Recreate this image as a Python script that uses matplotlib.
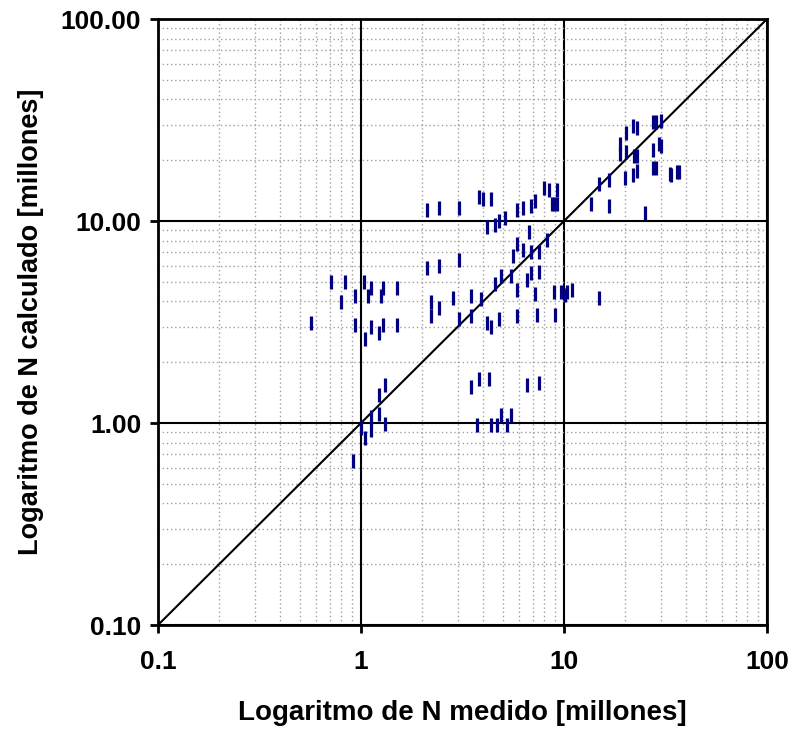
import matplotlib
matplotlib.use("Agg")
import matplotlib.pyplot as plt
from matplotlib.ticker import LogLocator, FixedLocator, NullFormatter

plt.rcParams['font.family'] = ['Liberation Sans', 'DejaVu Sans']

# N medido (x) y N calculado (y), millones
n_medido = [
    20.1, 21.9, 23.0, 27.5, 28.5, 30.1, 18.8, 18.8, 20.1, 22.1, 23.0, 27.4, 29.5, 30.0,
    20.0, 21.9, 23.0, 27.4, 28.5, 33.2, 33.8, 36.0, 36.8, 14.9, 16.7, 13.6, 16.7, 25.1,
    7.93, 8.45, 9.21, 8.68, 8.96, 9.21, 7.17, 6.85, 6.28, 5.87, 3.80, 3.98, 4.38, 2.11,
    2.42, 3.04, 4.19, 4.59, 4.80, 5.12, 6.70, 5.87, 6.28, 6.85, 8.26, 7.50, 5.61, 3.04,
    2.11, 2.42, 4.91, 5.50, 6.85, 7.50, 6.54, 4.59, 5.87, 7.17, 8.88, 9.69, 10.1, 10.4,
    10.9, 14.9, 2.20, 2.20, 2.42, 2.84, 3.49, 3.91, 3.04, 3.49, 4.19, 4.38, 4.80, 5.87,
    7.37, 9.04,
    0.714, 0.833, 1.03, 1.12, 1.28, 1.51, 0.796, 0.934, 1.08, 1.26, 0.568, 0.934, 1.12,
    1.28, 1.51, 1.05, 1.23,
    1.31, 1.23, 1.12, 1.12, 1.23, 1.31, 1.00, 1.05, 0.913,
    3.49, 3.82, 4.28, 6.54, 7.50, 3.73, 4.38, 4.69, 4.91, 5.24, 5.48,
]
n_calculado = [
    27.2, 29.6, 28.9, 31.0, 31.0, 31.4, 24.1, 21.4, 21.9, 21.0, 21.0, 22.4, 24.0, 23.5,
    16.4, 16.9, 17.6, 18.4, 18.4, 17.0, 16.8, 17.4, 17.4, 15.3, 15.9, 12.2, 11.9, 10.9,
    14.6, 14.3, 14.3, 12.2, 12.2, 12.1, 12.5, 11.8, 11.6, 11.4, 13.1, 12.8, 12.8, 11.4,
    11.6, 11.6, 9.38, 9.60, 10.0, 10.4, 8.83, 7.69, 7.18, 7.02, 8.06, 7.02, 6.70, 6.40,
    5.84, 5.98, 5.33, 5.33, 5.50, 5.58, 5.09, 4.86, 4.54, 4.33, 4.43, 4.43, 4.29, 4.43,
    4.54, 4.14, 3.95, 3.38, 3.69, 4.14, 4.24, 4.10, 3.29, 3.37, 3.14, 3.00, 3.29, 3.37,
    3.44, 3.44,
    4.97, 4.97, 4.97, 4.64, 4.64, 4.64, 3.95, 4.24, 4.24, 4.24, 3.14, 3.07, 3.00,
    3.07, 3.04, 2.61, 2.80,
    1.54, 1.37, 1.07, 0.92, 1.11, 0.99, 0.95, 0.84, 0.65,
    1.51, 1.65, 1.65, 1.54, 1.58, 0.98, 0.98, 0.98, 1.09, 0.98, 1.09,
]
x_ticks = [0.1, 1, 10, 100]
x_labels = ["0.1", "1", "10", "100"]
y_ticks = [0.1, 1, 10, 100]
y_labels = ["0.10", "1.00", "10.00", "100.00"]

fig = plt.figure(figsize=(7.94, 7.31), dpi=100)
ax = fig.add_axes([0.199, 0.145, 0.767, 0.829])

ax.set_xscale('log')
ax.set_yscale('log')
ax.set_xlim(0.1, 100)
ax.set_ylim(0.1, 100)

# minor dotted grid
ax.xaxis.set_minor_locator(LogLocator(base=10, subs=range(2, 10)))
ax.yaxis.set_minor_locator(LogLocator(base=10, subs=range(2, 10)))
ax.xaxis.set_minor_formatter(NullFormatter())
ax.yaxis.set_minor_formatter(NullFormatter())
ax.grid(which='minor', color='#a0a0a0', linestyle=(0, (1, 2)), linewidth=1.0)
ax.grid(which='major', color='black', linestyle='-', linewidth=1.5)
ax.tick_params(which='minor', length=0)

ax.plot([0.1, 100], [0.1, 100], color='black', linewidth=1.5, zorder=3)
ax.plot(n_medido, n_calculado, linestyle='none', marker='|', markersize=10,
        markeredgewidth=2.3, color='#000080', zorder=4)

ax.xaxis.set_major_locator(FixedLocator(x_ticks))
ax.yaxis.set_major_locator(FixedLocator(y_ticks))
ax.set_xticklabels(x_labels)
ax.set_yticklabels(y_labels)
ax.tick_params(which='major', direction='out', length=6, width=2, labelsize=19)
ax.tick_params(axis='x', pad=12)
ax.tick_params(axis='y', pad=6)
for lab in ax.get_xticklabels() + ax.get_yticklabels():
    lab.set_fontweight('bold')

for s in ax.spines.values():
    s.set_linewidth(2)

ax.set_xlabel("Logaritmo de N medido [millones]", fontsize=20, fontweight='bold', labelpad=19)
ax.set_ylabel("Logaritmo de N calculado [millones]", fontsize=19.5, fontweight='bold', labelpad=12)

fig.savefig("out.png", dpi=100)
